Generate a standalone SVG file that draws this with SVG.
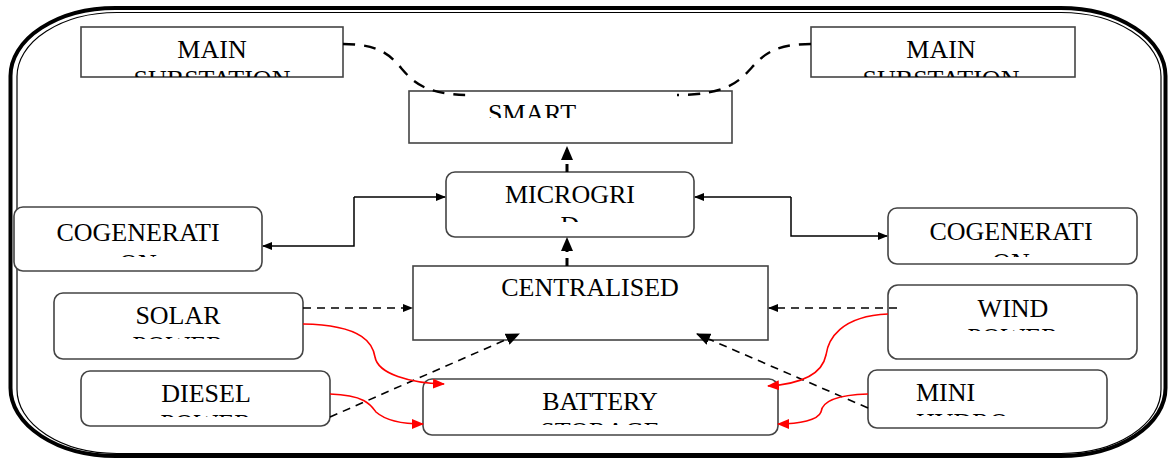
<svg xmlns="http://www.w3.org/2000/svg" width="1168" height="459" viewBox="0 0 1168 459">
<style>
.box{fill:#fff;stroke:#444;stroke-width:1.6}
.t{font-family:"Liberation Serif","Times New Roman",serif;font-size:26px;fill:#000}
.c{text-anchor:middle}
.solid{fill:none;stroke:#000;stroke-width:1.5}
.dash{fill:none;stroke:#000;stroke-width:1.6;stroke-dasharray:8 6}
.dashb{fill:none;stroke:#000;stroke-width:3;stroke-dasharray:8 6}
.dcurve{fill:none;stroke:#000;stroke-width:2.4;stroke-dasharray:12 9}
.red{fill:none;stroke:#f00;stroke-width:1.6}
</style>
<defs>
<marker id="ab" markerWidth="10" markerHeight="8" refX="9" refY="4" orient="auto" markerUnits="userSpaceOnUse"><path d="M0,0 L10,4 L0,8 z" fill="#000"/></marker>
<marker id="ar" markerWidth="12" markerHeight="10" refX="11" refY="5" orient="auto" markerUnits="userSpaceOnUse"><path d="M0,0 L12,5 L0,10 z" fill="#f00"/></marker>
<marker id="abig" markerWidth="14" markerHeight="12" refX="13" refY="6" orient="auto" markerUnits="userSpaceOnUse"><path d="M0,0 L14,6 L0,12 z" fill="#000"/></marker>
<clipPath id="cMainL"><rect x="81" y="27" width="262" height="50"/></clipPath>
<clipPath id="cMainR"><rect x="811" y="27" width="264" height="50"/></clipPath>
<clipPath id="cSmart"><rect x="409" y="91" width="323" height="27"/></clipPath>
<clipPath id="cMicro"><rect x="446" y="172" width="248" height="50"/></clipPath>
<clipPath id="cCogL"><rect x="14" y="207" width="248" height="50"/></clipPath>
<clipPath id="cCogR"><rect x="888" y="208" width="249" height="49"/></clipPath>
<clipPath id="cSolar"><rect x="54" y="293" width="249" height="46"/></clipPath>
<clipPath id="cDiesel"><rect x="81" y="371" width="249" height="46"/></clipPath>
<clipPath id="cBatt"><rect x="423" y="379" width="355" height="46"/></clipPath>
<clipPath id="cWind"><rect x="888" y="285" width="249" height="46"/></clipPath>
<clipPath id="cHydro"><rect x="868" y="370" width="239" height="46"/></clipPath>
</defs>

<g id="frame">
<rect x="10.5" y="8" width="1155" height="448" rx="105" ry="68" fill="none" stroke="#000" stroke-width="4"/>
<rect x="17" y="12.5" width="1144" height="441" rx="100" ry="64" fill="none" stroke="#000" stroke-width="1.2"/>
</g>

<g id="main-substation-left">
<rect class="box" x="81" y="27" width="262" height="50"/>
<g clip-path="url(#cMainL)"><text class="t c" x="212" y="58">MAIN</text><text class="t c" x="212" y="88">SUBSTATION</text></g>
</g>
<g id="main-substation-right">
<rect class="box" x="811" y="27" width="264" height="50"/>
<g clip-path="url(#cMainR)"><text class="t c" x="941" y="58">MAIN</text><text class="t c" x="941" y="88">SUBSTATION</text></g>
</g>
<g id="smart">
<rect class="box" x="409" y="91" width="323" height="52"/>
<g clip-path="url(#cSmart)"><text class="t" x="488" y="122">SMART</text></g>
</g>
<g id="microgrid">
<rect class="box" x="446" y="172" width="248" height="65" rx="9"/>
<g clip-path="url(#cMicro)"><text class="t c" x="570" y="203">MICROGRI</text><text class="t c" x="570" y="234">D</text></g>
</g>
<g id="centralised">
<rect class="box" x="413" y="266" width="355" height="74"/>
<text class="t c" x="590" y="296">CENTRALISED</text>
</g>
<g id="cogeneration-left">
<rect class="box" x="14" y="207" width="248" height="64" rx="9"/>
<g clip-path="url(#cCogL)"><text class="t c" x="138" y="241">COGENERATI</text><text class="t c" x="138" y="272">ON</text></g>
</g>
<g id="cogeneration-right">
<rect class="box" x="888" y="208" width="249" height="56" rx="9"/>
<g clip-path="url(#cCogR)"><text class="t c" x="1011" y="240">COGENERATI</text><text class="t c" x="1011" y="271">ON</text></g>
</g>
<g id="solar">
<rect class="box" x="54" y="293" width="249" height="66" rx="9"/>
<g clip-path="url(#cSolar)"><text class="t c" x="178" y="324">SOLAR</text><text class="t c" x="178" y="354">POWER</text></g>
</g>
<g id="diesel">
<rect class="box" x="81" y="371" width="249" height="55" rx="9"/>
<g clip-path="url(#cDiesel)"><text class="t c" x="206" y="402">DIESEL</text><text class="t c" x="206" y="432">POWER</text></g>
</g>
<g id="battery">
<rect class="box" x="423" y="379" width="355" height="56" rx="9"/>
<g clip-path="url(#cBatt)"><text class="t c" x="600" y="410">BATTERY</text><text class="t c" x="600" y="440">STORAGE</text></g>
</g>
<g id="wind">
<rect class="box" x="888" y="285" width="249" height="74" rx="10"/>
<g clip-path="url(#cWind)"><text class="t c" x="1013" y="317">WIND</text><text class="t c" x="1013" y="346">POWER</text></g>
</g>
<g id="minihydro">
<rect class="box" x="868" y="370" width="239" height="58" rx="9"/>
<g clip-path="url(#cHydro)"><text class="t" x="916" y="401">MINI</text><text class="t" x="916" y="431">HYDRO</text></g>
</g>

<g id="connectors">
<path class="dcurve" d="M343,44 C420,44 382,95 470,95"/>
<path class="dcurve" d="M811,44 C732,44 772,95 677,95"/>
<path class="dashb" d="M567,172 L567,147" marker-end="url(#abig)"/>
<path class="dashb" d="M567,266 L567,238" marker-end="url(#abig)"/>
<path class="solid" d="M354,197 L354,246 L263,246" marker-end="url(#ab)"/>
<path class="solid" d="M354,197 L445,197" marker-end="url(#ab)"/>
<path class="solid" d="M791,197 L695,197" marker-end="url(#ab)"/>
<path class="solid" d="M791,197 L791,236 L887,236" marker-end="url(#ab)"/>
<path class="dash" d="M303,308 L412,308" marker-end="url(#ab)"/>
<path class="dash" d="M897,308 L769,308" marker-end="url(#ab)"/>
<path class="dash" d="M330,417 L519,334" marker-end="url(#abig)"/>
<path class="dash" d="M868,408 L697,334" marker-end="url(#abig)"/>
<path class="red" d="M303,324 C365,325 373,345 375,357 C378,374 410,383 444,384" marker-end="url(#ar)"/>
<path class="red" d="M330,394 C365,395 371,405 376,412 C385,420 400,424 423,424" marker-end="url(#ar)"/>
<path class="red" d="M888,314 C840,316 828,340 826,355 C822,375 800,384 768,386" marker-end="url(#ar)"/>
<path class="red" d="M868,394 C835,395 822,402 821,412 C818,420 800,424 778,424" marker-end="url(#ar)"/>
</g>
</svg>
